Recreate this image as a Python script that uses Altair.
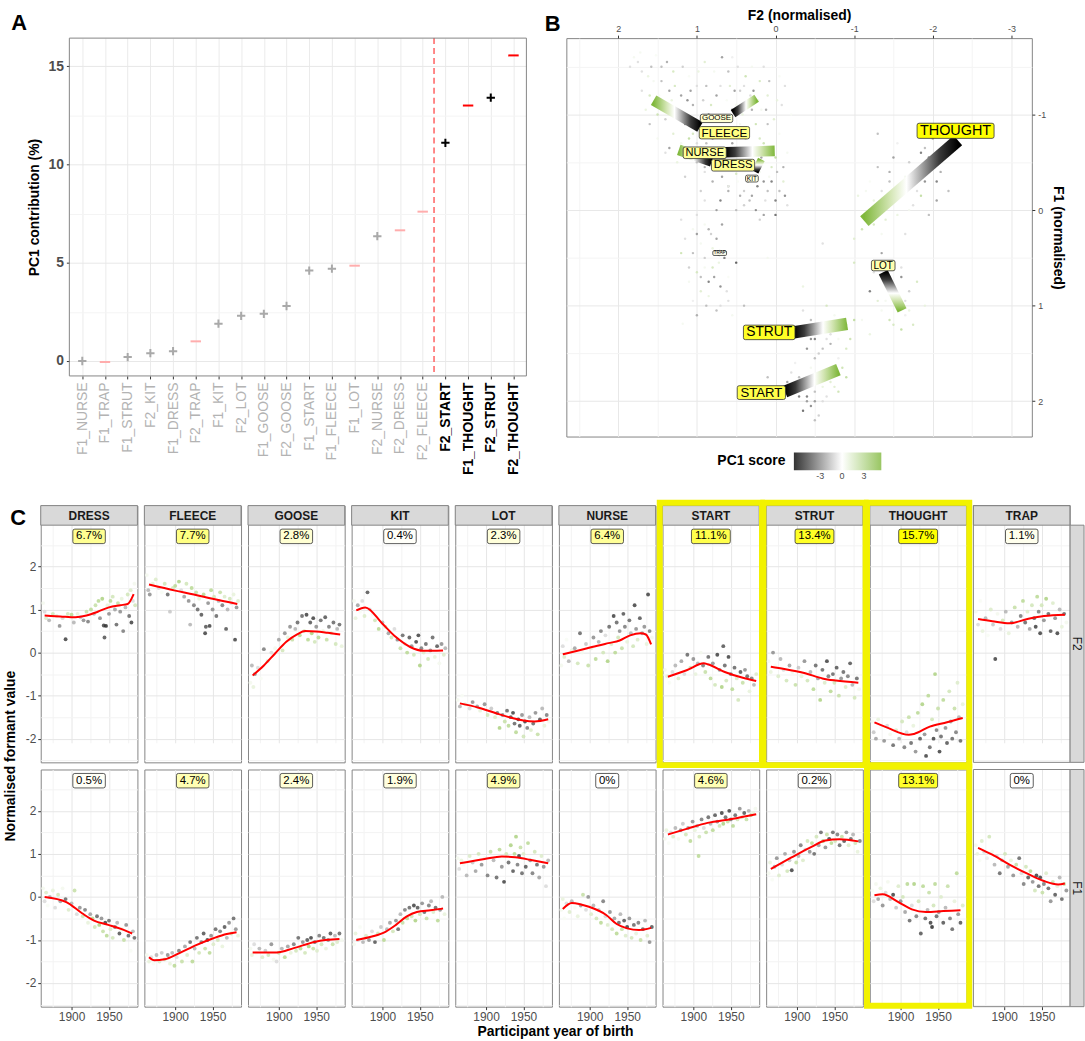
import json
import math
import altair as alt
import pandas as pd

FONT = "Liberation Sans"
GREEN = "#80b83c"
YELLOW = "#f2f200"
BORDER = "#858585"

# ---------------- Panel A ----------------
A_VARS = ["F1_NURSE", "F1_TRAP", "F1_STRUT", "F2_KIT", "F1_DRESS", "F2_TRAP", "F1_KIT", "F2_LOT",
          "F1_GOOSE", "F2_GOOSE", "F1_START", "F1_FLEECE", "F1_LOT", "F2_NURSE", "F2_DRESS",
          "F2_FLEECE", "F2_START", "F1_THOUGHT", "F2_STRUT", "F2_THOUGHT"]
A_CONTRIB = [0.0, -0.05, 0.2, 0.4, 0.5, 1.0, 1.9, 2.3, 2.4, 2.8, 4.6, 4.7, 4.85, 6.35, 6.65,
             7.6, 11.1, 13.0, 13.4, 15.55]
A_SIGN = ["+", "-", "+", "+", "+", "-", "+", "+", "+", "+", "+", "+", "-", "+", "-", "-",
          "+", "-", "+", "-"]

# ---------------- Panel C (percentages) ----------------
C_VOWELS = ["DRESS", "FLEECE", "GOOSE", "KIT", "LOT", "NURSE", "START", "STRUT", "THOUGHT", "TRAP"]
PCT_F2 = [6.7, 7.7, 2.8, 0.4, 2.3, 6.4, 11.1, 13.4, 15.7, 1.1]
PCT_F1 = [0.5, 4.7, 2.4, 1.9, 4.9, 0.0, 4.6, 0.2, 13.1, 0.0]

# ---------------- Panel B ----------------
B_VOWELS = ["FLEECE", "GOOSE", "NURSE", "DRESS", "KIT", "TRAP", "THOUGHT", "LOT", "STRUT", "START"]
B_BLACK_F2 = [0.96, 0.54, 0.64, 0.81, 0.26, 0.73, -2.32, -1.37, -0.23, -0.12]
B_BLACK_F1 = [-0.87, -1.01, -0.605, -0.51, -0.40, 0.44, -0.73, 0.65, 1.28, 1.90]
B_GREEN_F2 = [1.55, 0.24, 0.01, 1.23, 0.18, 0.69, -1.13, -1.61, -0.91, -0.80]
B_GREEN_F1 = [-1.15, -1.17, -0.62, -0.63, -0.53, 0.46, 0.115, 1.05, 1.19, 1.67]
B_LABEL_F2 = [0.65, 0.75, 0.90, 0.54, 0.30, 0.71, -2.29, -1.37, 0.08, 0.18]
B_LABEL_F1 = [-0.81, -0.96, -0.60, -0.47, -0.33, 0.45, -0.83, 0.58, 1.28, 1.91]

# token cloud (F2, F1, PC1 score)
B_POINTS = [
    (1.7, -1.45, -1), (1.55, -1.35, 0.5), (1.45, -1.5, -2), (1.6, -1.2, 2), (1.35, -1.25, -3),
    (1.25, -1.05, 1), (1.4, -0.95, -1.5), (1.15, -0.9, -4), (1.05, -1.1, -2.5), (1.3, -0.8, 1.5),
    (0.95, -0.85, -3), (1.2, -0.7, 0.5), (1.5, -1.0, 2.5), (1.0, -1.3, -1), (1.1, -0.75, 3),
    (0.6, -1.45, -2), (0.4, -1.3, -1), (0.2, -1.35, 2), (0.75, -1.2, -3), (0.5, -1.1, 0.5),
    (0.3, -1.05, -2.5), (0.1, -1.2, 1.5), (0.85, -1.0, -4), (0.65, -0.95, 3), (0.45, -1.25, -1.5),
    (-0.05, -1.4, 0.3), (0.55, -1.05, -3.5), (0.25, -0.9, 2.5), (0.15, -1.5, -1),
    (1.15, -0.62, 2), (1.0, -0.7, -1), (0.85, -0.55, -3), (0.7, -0.75, 0.5), (0.6, -0.5, -2),
    (0.45, -0.65, 1.5), (0.3, -0.58, -1.5), (0.15, -0.7, 2.5), (0.0, -0.55, 3), (0.9, -0.45, -2.5),
    (0.35, -0.8, -4), (0.55, -0.42, 1),
    (1.05, -0.55, 1.5), (0.9, -0.4, -1), (0.8, -0.3, -2.5), (0.7, -0.45, 0.5), (0.6, -0.25, -3),
    (0.5, -0.38, 2), (0.4, -0.2, -1.5), (0.65, -0.55, -4), (0.85, -0.62, 3), (0.45, -0.5, -2),
    (0.3, -0.35, 1),
    (0.5, -0.45, -1), (0.35, -0.3, -3), (0.2, -0.4, 0.5), (0.1, -0.2, -2), (0.0, -0.1, -4),
    (-0.1, -0.3, 1.5), (0.45, -0.15, -2.5), (0.25, 0.0, -3.5), (0.05, -0.45, 2), (-0.15, -0.05, -1),
    (0.15, 0.05, -3), (0.4, -0.05, -1.5), (0.6, -0.25, 0.3),
    (1.8, -1.6, 0.5), (1.7, -1.25, -1), (1.65, -1.05, 1), (1.45, -1.35, -2), (1.4, -0.6, -1),
    (1.3, -1.45, 2), (1.2, -1.2, -3), (1.1, -1.4, 0.3), (1.0, -0.5, -2), (0.9, -1.55, 1.5),
    (0.8, -0.75, -3.5), (0.7, -1.3, -1), (0.6, -0.2, -2.5), (0.5, -0.85, 1), (0.4, -0.6, -1),
    (0.3, -1.5, 0.5), (0.2, -0.75, 2), (0.1, -0.9, -2), (0.05, -0.3, -4), (-0.05, -0.8, 0.3),
    (-0.1, -0.45, -2.5), (0.75, 0.0, -3), (0.95, -0.2, -1.5), (1.05, 0.2, 0.5), (0.55, -1.6, -0.5),
    (1.75, -1.55, -1), (1.62, -1.4, 1), (1.52, -1.62, 0.3), (1.38, -1.55, -2.5), (1.28, -1.3, 2),
    (1.18, -1.5, -1.5), (1.08, -1.25, -3), (0.98, -1.45, 1), (0.88, -1.3, -2), (0.78, -1.45, 0.5),
    (0.68, -1.6, -3), (0.58, -1.3, 1.5), (0.48, -1.5, -1), (0.38, -1.4, 2.5), (0.28, -1.25, -3.5),
    (0.18, -1.05, 0.5), (0.08, -1.35, -2), (-0.02, -1.15, 1), (-0.12, -1.3, -1), (-0.2, -1.0, 0.3),
    (1.6, -0.9, -2), (1.5, -0.75, 0.5), (1.35, -0.65, -3), (1.25, -0.5, 1), (1.15, -0.35, -1.5),
    (1.05, -0.8, 2), (0.95, -0.65, -4), (0.85, -0.85, 0.3), (0.75, -0.6, -2.5), (0.65, -0.8, 1.5),
    (0.55, -0.7, -3), (0.45, -0.9, 0.5), (0.35, -0.45, -1), (0.25, -0.6, 2), (0.15, -0.3, -3.5),
    (0.05, -0.65, 1), (-0.05, -0.2, -2), (-0.15, -0.6, 0.5), (0.9, -0.1, -1), (0.7, -0.1, -4),
    (0.5, 0.0, -2), (0.3, -0.15, -3), (0.2, 0.1, -1.5), (0.0, 0.05, -4.5),
    (1.85, -1.5, -1), (1.72, -1.65, 0.5), (1.58, -1.5, -2), (1.48, -1.2, 0.3), (1.42, -1.1, -2.5),
    (1.32, -1.15, 1), (1.22, -0.95, -1), (1.12, -1.15, -3.5), (1.02, -0.95, 0.5), (0.92, -1.15, -1.5),
    (0.82, -1.1, 2), (0.72, -0.95, -2), (0.62, -1.15, 0.3), (0.52, -1.25, -3), (0.42, -1.0, 1),
    (0.32, -1.2, -1), (0.22, -1.15, 0.5), (0.12, -1.05, -2.5), (0.02, -0.95, 1.5), (-0.08, -1.1, -1),
    (0.98, -0.6, 0.5), (0.88, -0.7, -2), (0.78, -0.5, 1), (0.68, -0.35, -3), (0.58, -0.6, -1),
    (0.48, -0.3, 0.3), (0.38, -0.75, -2), (0.28, -0.45, 1.5), (0.18, -0.55, -3), (0.08, -0.35, 0.5),
    (-0.02, -0.4, -2), (-0.12, -0.15, -3.5), (0.33, -0.1, -2), (0.13, -0.1, -1), (0.23, -0.25, -4),
    (1.0, 0.05, -1), (0.85, 0.2, -2.5), (0.95, 0.35, 0.5), (0.75, 0.3, -3), (0.9, 0.5, -1.5),
    (0.8, 0.6, 2), (0.95, 0.7, -2), (0.7, 0.8, -3.5), (0.85, 0.9, 1), (1.1, 0.75, 0.5),
    (0.6, 0.95, -1), (0.75, 1.05, -2), (1.2, 0.45, 2.5), (0.65, 0.5, -4), (1.05, 0.95, -0.5),
    (1.18, 1.19, 0.5), (0.5, 0.55, -5), (0.1, 0.5, 0.5), (-0.35, 0.8, 1), (-0.6, 0.35, -1),
    (-1.0, 0.55, 2), (0.4, 1.0, -2),
    (1.2, 0.1, -1), (1.0, 0.25, -3), (0.9, 0.15, 0.5), (0.7, 0.45, -2), (0.6, 0.7, 0.3),
    (0.85, 0.75, -4), (0.95, 0.85, 1.5), (0.7, 1.0, -1), (0.55, 1.1, 0.5), (1.0, 1.1, -2.5),
    (0.8, 0.4, 1), (1.1, 0.6, -1.5), (1.15, 0.3, -1), (1.05, 0.45, -2), (0.9, 0.6, 0.5),
    (0.78, 0.7, -3), (0.72, 0.55, 1), (0.88, 1.0, -2), (0.62, 0.85, -1), (1.0, 0.65, 2),
    (0.82, 0.25, -1.5), (0.68, 0.15, -3),
    (-2.0, -0.75, -3), (-1.85, -0.6, -4), (-2.1, -0.4, -2.5), (-1.7, -0.5, -1.5), (-1.9, -0.3, -3.5),
    (-1.6, -0.2, 0.5), (-1.75, -0.05, -1), (-1.5, -0.1, 2), (-1.4, 0.1, 1.5), (-1.2, -0.3, 0.3),
    (-1.3, -0.45, -2), (-1.1, 0.2, 2.5), (-1.95, 0.05, -2), (-2.15, -0.6, -4.5), (-1.55, -0.7, -0.5),
    (-1.05, -0.15, 1), (-1.65, 0.25, -1), (-1.85, -0.15, 3), (-2.2, -0.2, -2), (-1.0, 0.3, 1.5),
    (-1.3, -0.8, -2), (-1.5, -0.55, -3), (-1.8, -0.4, -1), (-1.95, -0.55, -4), (-1.65, -0.35, 0.5),
    (-1.45, -0.3, -2), (-1.25, -0.1, 1), (-1.15, 0.05, 2), (-1.35, 0.25, 0.5), (-2.05, -0.1, -3),
    (-1.9, -0.65, -2), (-2.05, -0.3, -4), (-1.8, -0.2, -1), (-1.7, 0.0, 0.5), (-1.55, 0.05, 1),
    (-1.45, -0.4, -2.5), (-1.35, -0.2, -1), (-1.25, 0.15, 2), (-1.15, -0.2, 0.5), (-2.0, -0.5, -3),
    (-1.35, 0.45, -3), (-1.5, 0.55, -2), (-1.25, 0.65, -1), (-1.6, 0.7, -3.5), (-1.4, 0.8, 0.5),
    (-1.7, 0.85, -1.5), (-1.3, 0.95, 1.5), (-1.55, 1.0, -2.5), (-1.8, 0.75, 2), (-1.45, 1.15, 2.5),
    (-1.65, 1.1, -0.5), (-1.2, 0.85, -4), (-1.9, 1.0, 1), (-1.6, 1.25, 3), (-1.1, 1.15, 0.5),
    (-1.4, 0.6, -2), (-1.5, 0.85, -4), (-1.65, 0.95, -1), (-1.35, 1.05, 0.5), (-1.75, 1.2, 2),
    (-1.25, 0.55, -3), (-1.45, 0.7, -2), (-1.55, 0.9, -3), (-1.6, 0.6, -1), (-1.7, 1.05, 1),
    (-1.4, 0.95, 0.5), (-1.5, 1.2, 2),
    (-0.3, 1.25, -3), (-0.45, 1.15, -2), (-0.5, 1.35, -4), (-0.6, 1.2, -1), (-0.7, 1.4, -2.5),
    (-0.75, 1.1, 0.5), (-0.85, 1.25, 1.5), (-0.95, 1.35, 2.5), (-0.55, 1.5, -1.5), (-0.4, 1.45, -3.5),
    (-0.65, 1.0, 2), (-0.8, 1.55, -0.5), (-1.0, 1.15, 3), (-0.35, 1.05, -1), (-1.2, 1.3, 1),
    (-0.4, 1.3, -2.5), (-0.55, 1.25, -4), (-0.65, 1.35, -1), (-0.75, 1.2, 1), (-0.9, 1.45, 2),
    (-0.5, 1.55, -2), (-0.5, 1.2, -3), (-0.6, 1.45, -2), (-0.7, 1.3, -1), (-0.8, 1.35, 0.5),
    (-0.45, 1.35, -3.5), (-0.9, 1.2, 2),
    (0.1, 1.75, -2), (-0.1, 1.85, -3.5), (-0.2, 1.7, -1), (-0.3, 1.95, -4), (-0.4, 1.8, -2.5),
    (-0.5, 2.0, -3), (-0.45, 1.65, 0.5), (-0.6, 1.85, 1), (-0.7, 1.7, 2), (-0.8, 1.9, 2.5),
    (-0.55, 2.15, -1.5), (-0.35, 2.1, -4.5), (-0.9, 1.75, 3), (-0.25, 1.6, -0.5), (-0.5, 2.2, -2),
    (-0.15, 1.8, -3), (-0.3, 1.75, -2), (-0.4, 1.95, -4), (-0.6, 2.0, -1), (-0.7, 1.8, 1.5),
    (-0.45, 2.05, -3.5), (-0.85, 1.65, 2.5), (-0.25, 1.9, -3), (-0.35, 1.85, -4), (-0.5, 1.9, -2),
    (-0.55, 1.75, 0.5), (-0.65, 1.95, -1), (-0.75, 1.85, 1.5), (-0.4, 2.0, -3),
]

# ---------------- Panel C: speaker points (year, value, PC1 score) and smooths ----------------
DRESS_F2 = [(1862,1.15,0.5),(1864,0.95,-1),(1866,0.8,1.5),(1870,0.75,-2),(1875,0.9,2),(1880,0.85,1),(1884,0.62,-3),(1888,0.8,-1),(1892,0.31,-5),(1895,0.9,2),(1900,0.88,3),(1903,0.7,-2),(1908,0.9,1),(1912,0.82,-1.5),(1916,0.75,-3),(1920,0.95,2.5),(1922,0.72,-3.5),(1926,1.0,3),(1930,0.9,-2),(1932,1.1,2.5),(1936,1.2,3),(1938,0.8,-3),(1941,1.25,3.5),(1943,0.63,-5),(1944,0.35,-4.5),(1946,0.62,-5.5),(1948,1.1,1),(1950,0.9,-3),(1952,1.2,3),(1955,1.3,2),(1958,1.0,-2.5),(1960,0.65,-4),(1962,1.15,2.5),(1965,0.95,-3),(1967,1.25,1),(1969,0.5,-3.5),(1972,1.05,-2),(1975,1.35,2),(1977,0.85,-4),(1979,1.45,1.5),(1980,0.7,-5),(1982,1.2,-1),(1984,1.6,0.5),(1985,1.1,2)]
DRESS_F2_FIT = [(1864,0.86),(1885,0.84),(1905,0.82),(1920,0.86),(1935,0.95),(1950,1.05),(1965,1.10),(1975,1.13),(1983,1.36)]
FLEECE_F2 = [(1862,1.8,0.5),(1864,1.45,-2),(1866,1.35,-3),(1870,1.6,1),(1874,1.7,1.5),(1878,1.5,-1),(1882,1.4,0.3),(1886,1.6,2),(1890,1.35,-4),(1893,0.95,-1.5),(1897,1.5,2),(1900,1.55,3),(1905,1.65,3.5),(1908,1.45,-1),(1912,1.3,-2.5),(1915,1.6,2),(1918,1.2,-3),(1920,0.65,-2),(1922,1.5,3),(1925,1.1,-3.5),(1928,1.4,2.5),(1930,1.0,-4),(1932,1.25,1),(1935,0.88,-4.5),(1938,1.35,3),(1940,0.45,-5),(1941,0.6,-4.5),(1944,1.15,-3),(1946,0.62,-5),(1948,1.45,3),(1950,1.0,-3),(1952,1.3,2),(1955,0.85,-4),(1958,1.2,-2),(1960,1.4,2.5),(1963,1.1,-3.5),(1966,1.3,1.5),(1968,0.55,-4.5),(1970,1.0,-2),(1973,1.25,2),(1975,1.15,-1),(1978,1.35,1),(1980,0.3,-5),(1982,1.05,-3),(1984,1.2,1.5)]
FLEECE_F2_FIT = [(1865,1.58),(1900,1.44),(1925,1.35),(1950,1.25),(1983,1.13)]
GOOSE_F2 = [(1862,-0.7,0.5),(1864,-0.3,-2),(1866,-0.8,1),(1868,-0.5,-3),(1872,-0.35,-1),(1876,-0.6,0.3),(1880,0.08,-3.5),(1885,-0.2,1.5),(1890,0.0,-1),(1895,0.1,0.5),(1900,0.3,-2.5),(1905,0.05,2),(1908,0.45,-3),(1912,0.35,1),(1915,0.6,-3),(1918,0.3,2.5),(1922,0.55,-2),(1925,0.7,-4),(1928,0.4,3),(1931,0.85,-4),(1934,0.5,2),(1937,0.88,-5),(1939,0.3,3),(1942,0.7,-4.5),(1944,0.45,3.5),(1946,0.8,-5),(1948,0.25,2),(1950,0.6,-3),(1953,0.35,3),(1956,0.75,-4),(1959,0.5,1),(1962,0.82,-4.5),(1964,0.3,2.5),(1967,0.6,-3.5),(1970,0.45,1.5),(1973,0.7,-4),(1976,0.2,2),(1978,0.55,-2),(1981,0.65,-4),(1984,0.15,1)]
GOOSE_F2_FIT = [(1865,-0.53),(1880,-0.3),(1895,-0.02),(1910,0.25),(1925,0.43),(1935,0.5),(1950,0.49),(1965,0.46),(1982,0.42)]
KIT_F2 = [(1862,1.2,0.5),(1864,0.8,1),(1867,1.1,-2.5),(1870,0.95,0.3),(1873,1.2,-1),(1876,0.85,1.5),(1880,1.4,-4.5),(1883,1.0,-1),(1887,0.9,0.5),(1890,0.75,2),(1895,0.55,3),(1900,0.7,-2),(1904,0.6,1.5),(1908,0.45,-2.5),(1912,0.35,2),(1916,0.55,-1),(1920,0.3,-3),(1924,0.1,2.5),(1927,0.4,-4),(1930,0.2,1),(1933,0.0,3),(1936,0.35,-4.5),(1939,0.15,-3),(1942,-0.05,2),(1945,0.25,-5),(1948,0.4,-5),(1950,-0.3,3.5),(1952,0.1,-3.5),(1955,0.0,1.5),(1958,0.2,-4),(1961,-0.15,2),(1964,0.05,-3),(1967,0.35,-4),(1970,-0.1,1),(1973,0.15,-4.5),(1976,-0.25,0.5),(1979,0.2,-3),(1982,-0.05,1.5),(1984,0.1,-2)]
KIT_F2_FIT = [(1865,0.98),(1877,1.05),(1900,0.67),(1918,0.36),(1937,0.13),(1955,0.04),(1981,0.05)]
LOT_F2 = [(1862,-1.1,0.5),(1865,-1.25,-2),(1868,-1.0,0.3),(1872,-1.2,1),(1878,-1.3,-1),(1882,-1.15,-3),(1888,-1.25,-2.5),(1892,-1.35,1),(1898,-1.2,-3),(1902,-1.45,2),(1907,-1.3,-1.5),(1912,-1.5,1.5),(1915,-1.4,-3.5),(1918,-1.75,3.5),(1922,-1.45,-3),(1925,-1.6,2.5),(1928,-1.35,-4),(1930,-1.7,3),(1933,-1.5,-4.5),(1936,-1.4,-5),(1938,-1.65,-4),(1940,-1.85,3),(1943,-1.55,-5),(1945,-1.7,-4.5),(1948,-1.45,-3),(1950,-1.95,2),(1952,-1.6,-5),(1955,-1.75,-3.5),(1958,-1.5,-2),(1960,-1.8,1.5),(1963,-1.65,-4),(1966,-1.4,-3),(1969,-1.9,2.5),(1972,-1.55,-4.5),(1975,-1.3,-2),(1978,-1.7,1),(1981,-1.45,-3.5),(1984,-1.6,0.5)]
LOT_F2_FIT = [(1865,-1.18),(1890,-1.28),(1915,-1.42),(1935,-1.52),(1950,-1.58),(1965,-1.6),(1983,-1.55)]
NURSE_F2 = [(1862,-0.3,0.5),(1864,0.15,-1),(1866,-0.1,1.5),(1869,0.3,0.3),(1872,-0.2,-2),(1876,0.05,1),(1880,0.1,-2.5),(1884,-0.25,2),(1887,0.45,-4),(1890,0.0,0.5),(1895,0.2,-1.5),(1898,-0.3,2.5),(1902,0.1,1),(1905,0.35,-3),(1908,-0.15,3),(1912,0.25,-2),(1915,0.5,-3.5),(1918,0.0,2),(1921,0.4,-1),(1924,-0.2,3.5),(1926,0.6,-4),(1929,0.2,1.5),(1932,0.85,-5),(1934,0.0,3),(1936,0.7,-4),(1938,0.35,2),(1940,0.5,-3),(1943,0.1,2.5),(1945,0.9,-4.5),(1947,0.6,-3.5),(1950,0.25,1),(1953,0.75,-4),(1955,0.45,-2),(1958,0.15,2),(1960,1.1,-5),(1962,0.55,-3),(1964,0.3,1.5),(1967,0.8,-4.5),(1970,0.45,-2.5),(1973,0.6,-3),(1976,0.2,1),(1978,1.35,-5),(1980,0.5,-3.5),(1983,0.35,0.5)]
NURSE_F2_FIT = [(1864,-0.04),(1885,0.05),(1903,0.13),(1925,0.22),(1940,0.28),(1954,0.4),(1968,0.45),(1975,0.42),(1982,0.19)]
START_F2 = [(1862,-0.4,0.5),(1865,-0.55,1),(1868,-0.7,0.3),(1872,-0.45,-1),(1876,-0.3,-2),(1880,-0.6,1.5),(1884,-0.2,-2.5),(1888,-0.5,-1),(1892,-0.05,-4),(1896,-0.35,2),(1900,-0.15,-3),(1903,-0.5,1),(1906,-0.25,-2),(1910,0.0,0.5),(1913,-0.3,-3.5),(1916,-0.45,2.5),(1920,-0.1,-4),(1923,-0.6,3),(1926,-0.25,-3),(1929,-0.75,2),(1932,-0.05,-5),(1935,-0.4,-3),(1938,-0.8,3.5),(1940,0.15,-4.5),(1942,-0.3,-4),(1944,-0.65,2),(1947,-0.1,-5),(1950,-0.5,-3.5),(1952,-0.85,3),(1955,-0.35,-4),(1958,-0.6,1.5),(1960,-1.1,2),(1963,-0.45,-4.5),(1966,-0.7,2.5),(1969,-0.4,-3),(1972,-0.55,-4),(1975,-0.9,1),(1978,-0.6,-3.5),(1981,-0.75,-2),(1984,-0.5,1.5)]
START_F2_FIT = [(1866,-0.56),(1891,-0.41),(1914,-0.25),(1919,-0.27),(1942,-0.45),(1965,-0.58),(1984,-0.66)]
STRUT_F2 = [(1862,-0.2,0.5),(1865,-0.45,1),(1868,0.0,-3),(1871,-0.3,0.3),(1875,-0.55,1.5),(1878,-0.15,-2),(1882,-0.4,-1),(1886,-0.65,2),(1890,-0.3,-2.5),(1894,-0.45,0.5),(1898,-0.75,2.5),(1902,-0.35,-1.5),(1906,-0.55,1),(1910,-0.2,-3),(1914,-0.65,2),(1918,-0.45,-2),(1922,-0.85,3),(1925,-0.3,-4),(1928,-0.6,-2.5),(1931,-1.1,3.5),(1934,-0.4,-4),(1937,-0.7,1.5),(1940,-0.2,-5),(1942,-0.55,-3.5),(1945,-0.9,3),(1948,-0.5,-4),(1950,-0.7,2),(1953,-0.35,-4.5),(1956,-1.0,2.5),(1959,-0.6,-3),(1962,-0.45,-4),(1965,-0.8,1.5),(1968,-0.55,-3.5),(1971,-0.25,-4.5),(1974,-0.75,-2),(1977,-1.05,2),(1980,-0.6,-4),(1983,-0.85,0.5)]
STRUT_F2_FIT = [(1865,-0.33),(1883,-0.38),(1911,-0.48),(1934,-0.6),(1952,-0.65),(1982,-0.7)]
THOUGHT_F2 = [(1862,-1.6,0.5),(1864,-1.85,-1.5),(1867,-2.0,-2.5),(1870,-1.55,1),(1874,-1.75,0.3),(1878,-2.05,-3),(1882,-1.7,-1),(1886,-1.9,0.5),(1890,-2.15,-4),(1894,-1.8,1.5),(1898,-2.0,-2),(1902,-1.6,2),(1905,-2.2,-3.5),(1908,-1.85,-1),(1911,-1.5,2.5),(1914,-2.1,-4),(1917,-1.7,1),(1920,-2.3,-3),(1923,-1.4,3),(1926,-2.0,-4.5),(1929,-1.2,3.5),(1932,-1.9,-3),(1934,-2.4,-5),(1937,-1.0,3),(1939,-2.2,-4),(1942,-1.55,2),(1944,-2.0,-5),(1946,-0.5,3.5),(1948,-1.8,-3.5),(1950,-1.3,2.5),(1952,-2.3,-5),(1954,-1.95,-4),(1957,-1.1,3),(1960,-1.75,-3),(1962,-2.1,-4.5),(1965,-0.9,2),(1967,-1.6,-2.5),(1969,-2.0,-4),(1972,-1.3,2.5),(1974,-1.85,-3.5),(1976,-0.7,1.5),(1978,-1.5,-2),(1980,-2.05,-4),(1983,-1.2,1)]
THOUGHT_F2_FIT = [(1865,-1.62),(1883,-1.75),(1911,-1.91),(1918,-1.89),(1939,-1.72),(1962,-1.62),(1983,-1.52)]
TRAP_F2 = [(1862,0.95,0.5),(1865,0.65,-1),(1868,1.2,0.3),(1871,0.5,1),(1875,0.8,-2),(1878,0.4,0.3),(1882,1.0,1.5),(1885,0.65,-1.5),(1888,-0.15,-5),(1891,0.9,0.5),(1895,0.55,-1),(1898,0.75,2),(1902,0.95,-2),(1906,0.45,1),(1910,0.7,-3),(1914,1.05,2.5),(1918,0.6,-2),(1922,0.85,-3.5),(1925,1.2,3),(1928,0.7,-4),(1931,0.95,1.5),(1934,0.55,-2.5),(1937,1.1,2),(1940,0.8,-4),(1942,0.6,-5),(1944,1.3,3),(1946,0.95,-3.5),(1948,0.45,-5),(1950,1.1,2),(1953,0.75,-3),(1956,1.25,3.5),(1959,0.9,-4),(1962,0.5,-4.5),(1965,1.15,1.5),(1968,0.8,-3),(1971,0.45,-5),(1974,1.0,-2),(1977,0.6,1),(1980,0.9,-4),(1983,0.7,0.5)]
TRAP_F2_FIT = [(1865,0.78),(1884,0.73),(1907,0.68),(1931,0.78),(1953,0.85),(1981,0.88)]

DRESS_F1 = [(1862,0.2,0.5),(1864,-0.1,-1),(1866,0.1,1.5),(1868,-0.2,0.3),(1871,0.0,-2),(1875,0.15,1),(1878,-0.25,-1),(1882,0.05,2),(1885,-0.1,-2.5),(1888,0.2,0.5),(1892,-0.05,-4),(1896,-0.3,1.5),(1900,-0.15,-2),(1904,0.15,2.5),(1907,-0.4,-1),(1911,-0.25,-3),(1915,-0.45,2),(1918,-0.3,-3.5),(1922,-0.6,1),(1925,-0.4,-2.5),(1928,-0.5,3),(1931,-0.7,2),(1934,-0.45,-4),(1937,-0.65,3.5),(1940,-0.5,-3),(1942,-0.8,2.5),(1945,-0.6,-5),(1947,-0.9,3),(1950,-0.55,-4),(1952,-0.75,1.5),(1955,-0.95,2),(1958,-0.7,-3.5),(1961,-0.6,-2),(1964,-0.85,-4.5),(1967,-0.75,1),(1970,-1.0,2.5),(1973,-0.65,-3),(1976,-0.9,-4),(1979,-1.25,0.3),(1982,-0.8,-2),(1984,-0.95,-4)]
DRESS_F1_FIT = [(1864,0.0),(1893,-0.12),(1914,-0.38),(1930,-0.55),(1949,-0.65),(1967,-0.75),(1981,-0.85)]
FLEECE_F1 = [(1862,-1.35,0.5),(1865,-1.5,1),(1868,-1.4,-1),(1871,-1.55,0.3),(1875,-1.35,-2),(1879,-1.5,1.5),(1882,-1.3,-1.5),(1886,-1.45,2),(1890,-1.35,-3),(1893,-1.55,1),(1896,-1.3,-2),(1899,-1.6,3),(1902,-1.4,-1),(1905,-1.25,-3.5),(1909,-1.5,2.5),(1913,-1.15,-2.5),(1916,-1.35,1.5),(1920,-1.05,-4),(1923,-1.5,3),(1926,-1.2,-2),(1929,-0.95,-4),(1932,-1.3,2),(1935,-1.05,-3.5),(1938,-0.85,-4.5),(1940,-1.2,2.5),(1943,-1.0,-5),(1946,-1.3,3),(1948,-0.9,-3),(1951,-1.1,1.5),(1954,-0.75,-4),(1957,-1.0,2),(1960,-0.8,-3.5),(1963,-1.15,1),(1966,-0.7,-4.5),(1969,-0.95,-2),(1972,-0.6,-3),(1975,-0.85,2),(1978,-0.5,-4),(1981,-0.75,-3),(1984,-0.9,1)]
FLEECE_F1_FIT = [(1865,-1.4),(1872,-1.47),(1886,-1.45),(1905,-1.31),(1928,-1.12),(1951,-0.96),(1969,-0.86),(1982,-0.82)]
GOOSE_F1 = [(1862,-1.2,0.5),(1864,-1.35,1),(1867,-1.1,-1),(1870,-1.3,0.3),(1874,-1.2,-2),(1878,-1.4,1.5),(1882,-1.25,-1.5),(1886,-1.35,2),(1890,-1.1,-3),(1893,-1.45,0.5),(1897,-1.5,-1),(1900,-1.3,2.5),(1904,-1.2,-2),(1908,-1.4,3),(1912,-1.15,-2.5),(1916,-1.3,1),(1920,-1.1,-3.5),(1923,-1.25,2),(1926,-0.95,-4),(1929,-1.2,3),(1932,-1.05,-3),(1935,-1.3,2),(1938,-1.0,-4.5),(1940,-1.15,3.5),(1943,-0.95,-5),(1946,-1.2,2.5),(1948,-1.05,-4),(1951,-1.25,1.5),(1954,-0.9,-3.5),(1957,-1.1,2),(1960,-0.95,-4),(1963,-1.2,1),(1966,-1.0,-3),(1969,-0.85,-4.5),(1972,-1.1,2.5),(1975,-0.9,-2),(1978,-1.05,1.5),(1981,-0.85,-4),(1984,-1.0,0.5)]
GOOSE_F1_FIT = [(1865,-1.29),(1897,-1.29),(1920,-1.19),(1949,-1.04),(1981,-0.98)]
KIT_F1 = [(1862,-1.1,0.5),(1864,-0.85,1),(1867,-1.0,-1),(1870,-0.7,0.3),(1874,-1.05,-2),(1878,-0.9,1.5),(1882,-1.0,-3),(1886,-0.8,-1),(1890,-1.05,-4.5),(1894,-0.85,2),(1898,-0.7,-1.5),(1902,-1.0,3),(1906,-0.75,-2),(1910,-0.6,-2.5),(1914,-0.8,2),(1918,-0.55,-3),(1921,-0.75,-4),(1924,-0.4,-2),(1927,-0.6,2.5),(1930,-0.3,-3.5),(1933,-0.5,3),(1936,-0.25,-4),(1939,-0.45,2),(1942,-0.2,-5),(1944,-0.55,3.5),(1947,-0.25,-4.5),(1950,-0.4,2),(1953,-0.15,-3),(1956,-0.35,-4),(1959,-0.5,2.5),(1962,-0.2,-3.5),(1965,-0.1,-2),(1968,-0.35,1.5),(1971,-0.25,-4),(1974,-0.55,3),(1977,-0.3,-3),(1980,0.0,-2),(1983,-0.4,1)]
KIT_F1_FIT = [(1865,-1.0),(1886,-0.92),(1904,-0.81),(1918,-0.65),(1932,-0.46),(1946,-0.35),(1964,-0.31),(1981,-0.27)]
LOT_F1 = [(1862,0.9,0.5),(1864,0.65,-1),(1867,0.85,1),(1870,0.75,0.3),(1874,0.5,-2),(1878,0.95,1.5),(1882,0.8,-1.5),(1886,0.6,-2.5),(1890,1.0,2),(1894,0.75,-3),(1898,0.9,0.5),(1902,0.5,-3.5),(1906,1.05,2.5),(1910,0.85,-2),(1914,0.45,-4),(1918,1.1,3),(1921,0.7,-3),(1924,0.35,-5),(1927,1.0,2),(1930,0.8,-4),(1933,1.2,3.5),(1936,0.6,-4.5),(1938,1.0,3),(1940,1.4,3.5),(1942,0.75,-3.5),(1944,0.95,-5),(1946,1.15,2.5),(1948,0.55,-4),(1950,1.0,1.5),(1953,0.7,-4.5),(1956,1.25,3),(1959,0.85,-3),(1962,0.55,-3.5),(1965,1.05,2),(1968,0.75,-4),(1971,0.45,-2.5),(1974,0.95,1.5),(1977,0.7,-3),(1980,0.25,-1),(1983,0.85,-2)]
LOT_F1_FIT = [(1865,0.78),(1898,0.88),(1921,0.94),(1939,0.92),(1962,0.85),(1983,0.78)]
NURSE_F1 = [(1862,-0.3,0.5),(1864,-0.05,1),(1866,-0.5,0.3),(1869,-0.15,-1),(1873,-0.35,1.5),(1876,-0.1,-2),(1880,-0.25,0.3),(1884,-0.45,1),(1888,-0.2,-2.5),(1891,0.05,2.5),(1895,-0.3,-1),(1898,0.0,-3),(1902,-0.4,1.5),(1905,-0.2,-2),(1909,-0.5,2),(1912,-0.3,-1.5),(1915,-0.6,3),(1918,-0.1,-3.5),(1921,-0.45,-1),(1924,-0.65,1.5),(1927,-0.35,-3),(1930,-0.75,2),(1933,-0.5,-2.5),(1936,-0.85,3),(1939,-0.6,-4),(1941,-0.4,-2),(1943,-0.75,2.5),(1946,-0.55,-4.5),(1948,-0.9,1.5),(1950,-0.7,-5),(1953,-0.5,-3),(1956,-0.95,2),(1959,-0.65,-4),(1962,-0.85,1),(1965,-0.6,-3.5),(1968,-1.0,2.5),(1971,-0.75,-4),(1974,-0.55,-2),(1977,-0.9,1.5),(1980,-1.05,-3),(1983,-0.7,-4.5)]
NURSE_F1_FIT = [(1864,-0.28),(1876,-0.14),(1899,-0.23),(1922,-0.42),(1936,-0.63),(1950,-0.73),(1966,-0.77),(1982,-0.72)]
START_F1 = [(1862,1.35,0.5),(1864,1.55,1),(1867,1.25,0.3),(1870,1.5,-1),(1873,1.4,1.5),(1876,1.6,-2),(1880,1.35,0.5),(1883,1.55,-3),(1886,1.7,-1.5),(1890,1.45,2),(1893,1.6,-2.5),(1896,1.3,3),(1899,1.75,-3),(1902,1.55,1),(1905,1.65,-2),(1907,0.95,3),(1908,1.4,2),(1911,1.8,-3.5),(1914,1.6,-1),(1917,1.5,2.5),(1920,1.85,-4),(1923,1.7,-2),(1926,1.55,3),(1929,1.9,-4.5),(1932,1.75,-3),(1935,1.65,2),(1938,1.95,-5),(1940,1.7,3.5),(1943,1.85,-4),(1946,1.75,2.5),(1948,2.0,-5),(1950,1.8,-3.5),(1953,1.65,3),(1956,1.9,-4),(1959,1.8,2),(1962,2.05,-3),(1965,1.85,1.5),(1968,1.95,-4.5),(1971,1.8,2.5),(1974,2.0,-2),(1977,1.9,3),(1980,1.95,1),(1983,2.05,0.5)]
START_F1_FIT = [(1866,1.45),(1891,1.58),(1919,1.72),(1951,1.81),(1984,1.92)]
STRUT_F1 = [(1862,0.55,0.5),(1864,0.8,1),(1867,0.4,0.3),(1870,0.7,-2),(1873,0.9,-3),(1876,0.5,1.5),(1880,0.75,-1),(1884,1.0,-2.5),(1887,0.6,2),(1890,0.85,-1.5),(1893,0.62,-5),(1896,1.05,-3),(1899,0.8,2.5),(1902,0.95,-2),(1905,1.2,-3.5),(1908,0.85,1.5),(1911,1.1,-1),(1914,1.3,2),(1917,1.05,-3),(1920,1.25,3),(1923,1.0,-4),(1926,1.4,2),(1929,1.2,-2.5),(1932,1.5,-4),(1935,1.3,3.5),(1938,1.15,-3),(1940,1.45,2.5),(1943,1.35,-5),(1946,1.25,3),(1948,1.5,-4),(1951,1.3,2),(1954,1.45,-3.5),(1957,1.2,-4),(1960,1.4,2.5),(1963,1.3,-4.5),(1966,1.5,-3),(1969,1.2,1.5),(1972,1.35,-4),(1975,1.45,-2),(1978,1.25,2),(1981,1.05,1),(1984,1.3,-3.5)]
STRUT_F1_FIT = [(1865,0.65),(1892,0.91),(1920,1.17),(1938,1.31),(1957,1.34),(1982,1.29)]
THOUGHT_F1 = [(1862,0.15,0.3),(1864,-0.1,-1),(1867,0.3,0.5),(1870,-0.05,-2.5),(1873,0.2,1),(1876,-0.2,-3),(1880,0.1,-1),(1883,0.35,0.5),(1886,-0.05,-2),(1890,0.05,-5),(1894,-0.25,-1.5),(1897,0.25,1.5),(1900,-0.1,-3),(1903,0.0,2),(1906,-0.35,-2.5),(1909,0.3,3),(1912,-0.55,-4),(1915,-0.2,-1),(1918,0.3,3.5),(1921,-0.45,-3.5),(1924,-0.1,2),(1927,-0.85,-4.5),(1930,0.25,3),(1933,-0.5,-4),(1936,-0.3,-2),(1938,0.1,2.5),(1940,-0.6,-5),(1942,-0.7,-5.5),(1944,-0.2,2),(1946,0.3,3),(1948,-0.45,-4),(1951,-0.35,-3),(1954,0.0,1.5),(1957,-0.6,-4.5),(1960,-0.25,-2),(1963,0.25,2.5),(1966,-0.5,-3.5),(1969,-0.75,-4),(1972,-0.1,1),(1975,0.55,3),(1977,-0.4,-3),(1980,-0.6,-4.5),(1983,-0.2,1.5)]
THOUGHT_F1_FIT = [(1865,0.04),(1876,0.06),(1897,-0.12),(1915,-0.29),(1934,-0.35),(1957,-0.33),(1980,-0.31)]
TRAP_F1 = [(1862,1.2,0.5),(1864,1.0,1),(1867,0.85,0.3),(1870,1.3,1.5),(1873,1.05,-1),(1877,0.9,-0.5),(1880,1.4,2),(1884,1.05,0.5),(1887,0.75,-2),(1890,0.95,-1),(1894,0.55,-4),(1897,0.85,-1.5),(1901,1.0,2),(1905,0.7,-2.5),(1909,0.85,1),(1912,0.5,-3),(1916,0.75,2.5),(1920,0.9,-4),(1923,0.55,-1),(1926,0.3,-3.5),(1929,0.7,2),(1932,0.45,-4.5),(1935,0.6,3),(1938,0.35,-3),(1941,0.15,2),(1943,0.5,-5),(1946,0.25,-4),(1948,0.45,-5),(1951,0.1,2.5),(1953,0.3,-3.5),(1956,0.55,1.5),(1959,0.2,-4),(1962,-0.1,-3),(1965,0.35,2),(1968,0.05,-4.5),(1971,0.25,1),(1974,0.45,-2),(1977,-0.05,-4),(1980,0.3,2.5),(1983,0.15,-3)]
TRAP_F1_FIT = [(1865,1.14),(1884,0.98),(1907,0.75),(1931,0.54),(1953,0.37),(1972,0.29),(1981,0.31)]

C_POINTS = {
    ("DRESS", "F2"): DRESS_F2, ("FLEECE", "F2"): FLEECE_F2, ("GOOSE", "F2"): GOOSE_F2,
    ("KIT", "F2"): KIT_F2, ("LOT", "F2"): LOT_F2, ("NURSE", "F2"): NURSE_F2,
    ("START", "F2"): START_F2, ("STRUT", "F2"): STRUT_F2, ("THOUGHT", "F2"): THOUGHT_F2,
    ("TRAP", "F2"): TRAP_F2,
    ("DRESS", "F1"): DRESS_F1, ("FLEECE", "F1"): FLEECE_F1, ("GOOSE", "F1"): GOOSE_F1,
    ("KIT", "F1"): KIT_F1, ("LOT", "F1"): LOT_F1, ("NURSE", "F1"): NURSE_F1,
    ("START", "F1"): START_F1, ("STRUT", "F1"): STRUT_F1, ("THOUGHT", "F1"): THOUGHT_F1,
    ("TRAP", "F1"): TRAP_F1,
}
C_FITS = {
    ("DRESS", "F2"): DRESS_F2_FIT, ("FLEECE", "F2"): FLEECE_F2_FIT, ("GOOSE", "F2"): GOOSE_F2_FIT,
    ("KIT", "F2"): KIT_F2_FIT, ("LOT", "F2"): LOT_F2_FIT, ("NURSE", "F2"): NURSE_F2_FIT,
    ("START", "F2"): START_F2_FIT, ("STRUT", "F2"): STRUT_F2_FIT, ("THOUGHT", "F2"): THOUGHT_F2_FIT,
    ("TRAP", "F2"): TRAP_F2_FIT,
    ("DRESS", "F1"): DRESS_F1_FIT, ("FLEECE", "F1"): FLEECE_F1_FIT, ("GOOSE", "F1"): GOOSE_F1_FIT,
    ("KIT", "F1"): KIT_F1_FIT, ("LOT", "F1"): LOT_F1_FIT, ("NURSE", "F1"): NURSE_F1_FIT,
    ("START", "F1"): START_F1_FIT, ("STRUT", "F1"): STRUT_F1_FIT, ("THOUGHT", "F1"): THOUGHT_F1_FIT,
    ("TRAP", "F1"): TRAP_F1_FIT,
}

# ---------------- helpers ----------------
SCORE_SCALE = alt.Scale(domain=[-6.64, 0, 5.4], range=["#000000", "#ffffff", GREEN], interpolate="rgb")
FILL_SCALE = alt.Scale(domain=[0, 15.7], range=["#ffffff", "#ffff00"], interpolate="rgb")
NUM_TXT = "(datum.value < 0 ? '-' + abs(datum.value) : '' + datum.value)"
INT_LABEL = f"datum.value % 1 == 0 ? {NUM_TXT} : ''"

CW = {'A': .667, 'B': .667, 'C': .722, 'D': .722, 'E': .667, 'F': .611, 'G': .778, 'H': .722,
      'I': .278, 'K': .667, 'L': .556, 'N': .722, 'O': .778, 'P': .667, 'R': .722, 'S': .667,
      'T': .611, 'U': .722, '%': .889, '.': .278}


def text_w(s, fs):
    return sum(CW.get(c, .556) for c in s) * fs


def box_path(w, h, r):
    x0, x1, y0, y1 = -w / 2, w / 2, -h / 2, h / 2
    p = [f"M{x0 + r:.2f},{y0:.2f}", f"L{x1 - r:.2f},{y0:.2f}", f"Q{x1:.2f},{y0:.2f},{x1:.2f},{y0 + r:.2f}",
         f"L{x1:.2f},{y1 - r:.2f}", f"Q{x1:.2f},{y1:.2f},{x1 - r:.2f},{y1:.2f}",
         f"L{x0 + r:.2f},{y1:.2f}", f"Q{x0:.2f},{y1:.2f},{x0:.2f},{y1 - r:.2f}",
         f"L{x0:.2f},{y0 + r:.2f}", f"Q{x0:.2f},{y0:.2f},{x0 + r:.2f},{y0:.2f}", "Z"]
    return "".join(p)


def cond(test, a, b):
    return {"condition": {"test": test, "value": a}, "value": b}


def letter(t, x, y):
    return alt.Chart(pd.DataFrame({"t": [t]})).mark_text(
        fontSize=22, fontWeight="bold", align="left", baseline="top", color="black"
    ).encode(x=alt.value(x), y=alt.value(y), text="t:N")


# ================= Panel A =================
AW, AH = 460.0, 340.0
SHIFT = 28.8      # plot area is drawn SHIFT px inside its view, so that panel C can sit further left
dfA = pd.DataFrame({"idx": list(range(len(A_VARS))), "var": A_VARS, "contrib": A_CONTRIB, "sign": A_SIGN})
dfA["key"] = dfA["sign"] + dfA["contrib"].map(lambda v: "hi" if v >= 10 else "lo")
n_lo = int((dfA["contrib"] < 10).sum())
lab_arr = json.dumps(A_VARS)

xA = alt.X("idx:Q", scale=alt.Scale(domain=[-0.57, len(A_VARS) - 1 + 0.57], range=[SHIFT, SHIFT + AW],
                                    nice=False, zero=False),
           axis=alt.Axis(values=list(range(len(A_VARS))), tickCount=len(A_VARS),
                         labelExpr=f"{lab_arr}[datum.value]",
                         labelAngle=-90, labelFontSize=14, labelOverlap=False, labelFlush=False,
                         labelColor=cond(f"datum.value >= {n_lo}", "#000000", "#b3b3b3"),
                         labelFontWeight=cond(f"datum.value >= {n_lo}", "bold", "normal"),
                         title=None, grid=True, gridColor="#ebebeb", tickColor="#333333",
                         tickSize=3, domain=False, labelPadding=3))
yA = alt.Y("contrib:Q", scale=alt.Scale(domain=[-0.76, 16.43], nice=False, zero=False),
           axis=alt.Axis(values=[0, 2.5, 5, 7.5, 10, 12.5, 15], tickCount=7, offset=-SHIFT,
                         labelExpr=f"datum.value % 5 == 0 ? {NUM_TXT} : ''",
                         gridColor=cond("datum.value % 5 == 0", "#e8e8e8", "#f4f4f4"),
                         tickColor=cond("datum.value % 5 == 0", "#333333", "transparent"),
                         tickSize=3, labelFontSize=14, labelFontWeight="bold", labelColor="#4d4d4d",
                         title="PC1 contribution (%)", titleFontSize=14, titleFontWeight="bold",
                         titleColor="black", domain=False, labelPadding=3, titlePadding=6,
                         labelOverlap=False))
colA = alt.Color("key:N", scale=alt.Scale(domain=["+lo", "+hi", "-lo", "-hi"],
                                          range=["#a9a9a9", "#000000", "#ffadad", "#ff0000"]), legend=None)
baseA = alt.Chart(dfA)
crosses = baseA.transform_filter("datum.sign == '+'").mark_point(
    shape="M-1,0L1,0M0,-1L0,1", size=70, filled=False, strokeWidth=2, opacity=1
).encode(x=xA, y=yA, color=colA)
dashes = baseA.transform_filter("datum.sign == '-'").mark_point(
    shape="M-1,0L1,0", size=110, filled=False, strokeWidth=2, opacity=1
).encode(x=xA, y=yA, color=colA)
one = pd.DataFrame({"t": [0]})
ruleA = alt.Chart(one).mark_rule(color="#ff6b6b", strokeDash=[6, 4], strokeWidth=1.6).encode(
    x=alt.datum(n_lo - 0.5))
borderA = alt.Chart(one).mark_rect(fillOpacity=0, stroke=BORDER, strokeWidth=1).encode(
    x=alt.value(SHIFT), x2=alt.value(SHIFT + AW), y=alt.value(0), y2=alt.value(AH))
chartA = alt.layer(
    ruleA, crosses, dashes, borderA, letter("A", SHIFT - 58.5, -24.7),
).properties(width=AW + SHIFT, height=AH, view=alt.ViewBackground(stroke="transparent"))

# ================= Panel B =================
BW, BH = 468.5, 401.0
BX_DOM = [-3.26, 2.66]
BY_DOM = [-1.80, 2.37]
KX = BW / (BX_DOM[1] - BX_DOM[0])
KY = BH / (BY_DOM[1] - BY_DOM[0])
xB_scale = alt.Scale(domain=BX_DOM, reverse=True, nice=False, zero=False)
yB_scale = alt.Scale(domain=BY_DOM, reverse=True, nice=False, zero=False)
xB_axis = alt.Axis(orient="top", values=[-3 + 0.5 * i for i in range(12)], tickCount=12,
                   labelExpr=INT_LABEL, labelOverlap=False,
                   gridColor=cond("datum.value % 1 == 0", "#e8e8e8", "#f4f4f4"),
                   tickColor=cond("datum.value % 1 == 0", "#333333", "transparent"), tickSize=3,
                   labelFontSize=9, labelColor="#4d4d4d", title="F2 (normalised)", titleFontSize=14,
                   titleFontWeight="bold", titleColor="black", domain=False, labelPadding=2,
                   titlePadding=2, labelFlush=False)
yB_axis = alt.Axis(orient="right", values=[-1.5 + 0.5 * i for i in range(8)], tickCount=8,
                   labelExpr=INT_LABEL, labelOverlap=False,
                   gridColor=cond("datum.value % 1 == 0", "#e8e8e8", "#f4f4f4"),
                   tickColor=cond("datum.value % 1 == 0", "#333333", "transparent"), tickSize=3,
                   labelFontSize=9, labelColor="#4d4d4d", title="F1 (normalised)", titleFontSize=14,
                   titleFontWeight="bold", titleColor="black", titleAngle=90, domain=False,
                   labelPadding=3, titlePadding=5, labelFlush=False)
xB = alt.X("F2:Q", scale=xB_scale, axis=xB_axis)
yB = alt.Y("F1:Q", scale=yB_scale, axis=yB_axis)

dfBp = pd.DataFrame(B_POINTS, columns=["F2", "F1", "score"])
ptsB = alt.Chart(dfBp).mark_circle(size=6, opacity=0.8).encode(
    x=xB, y=yB,
    color=alt.Color("score:Q", scale=SCORE_SCALE, legend=alt.Legend(
        orient="none", legendX=152, legendY=417, direction="horizontal", title="PC1 score",
        titleOrient="left", titleFontSize=14, titleFontWeight="bold", titleColor="black",
        gradientLength=88, gradientThickness=18, values=[-3, 0, 3], labelFontSize=9,
        labelColor="#4d4d4d", labelExpr=NUM_TXT, labelOverlap=False,
        gradientStrokeWidth=0, titlePadding=8)))

maxc = {v: max(PCT_F2[i], PCT_F1[i]) for i, v in enumerate(C_VOWELS)}
lo_l, hi_l = math.log(min(maxc.values())), math.log(max(maxc.values()))


def frac(v):
    return (math.log(v) - lo_l) / (hi_l - lo_l)


STOPS = [alt.GradientStop(color="#000000", offset=0), alt.GradientStop(color="#3a3a3a", offset=0.2),
         alt.GradientStop(color="#ffffff", offset=0.55), alt.GradientStop(color="#d4e6b5", offset=0.72),
         alt.GradientStop(color=GREEN, offset=1)]
bar_layers = []
for i, v in enumerate(B_VOWELS):
    d = pd.DataFrame({"F2": [B_BLACK_F2[i], B_GREEN_F2[i]], "F1": [B_BLACK_F1[i], B_GREEN_F1[i]]})
    dpx = (B_GREEN_F2[i] - B_BLACK_F2[i]) * KX
    dpy = (B_BLACK_F1[i] - B_GREEN_F1[i]) * KY
    if abs(dpx) >= abs(dpy):
        x1, x2 = (0, 1) if dpx < 0 else (1, 0)
        y1 = y2 = 0.5
    else:
        y1, y2 = (0, 1) if dpy < 0 else (1, 0)
        x1 = x2 = 0.5
    grad = alt.LinearGradient(gradient="linear", stops=STOPS, x1=x1, x2=x2, y1=y1, y2=y2)
    sw = 6 + 7 * frac(maxc[v])
    bar_layers.append(alt.Chart(d).mark_line(stroke=grad, strokeWidth=sw, strokeCap="butt").encode(x=xB, y=yB))

rowsL = []
for i, v in enumerate(B_VOWELS):
    fs = 4.5 + 10.0 * frac(maxc[v])
    w = text_w(v, fs) + 0.4 * fs
    h = 1.05 * fs
    rowsL.append({"F2": B_LABEL_F2[i], "F1": B_LABEL_F1[i], "txt": v, "fs": fs, "pct": maxc[v],
                  "shape": box_path(w, h, min(2.0, h / 4))})
dfBl = pd.DataFrame(rowsL)
boxB = alt.Chart(dfBl).mark_point(size=4, filled=True, stroke="#333333", strokeWidth=0.8, opacity=1).encode(
    x=xB, y=yB, shape=alt.Shape("shape:N", scale=None),
    fill=alt.Fill("pct:Q", scale=FILL_SCALE, legend=None))
txtB = alt.Chart(dfBl).mark_text(color="black", baseline="middle").encode(
    x=xB, y=yB, text="txt:N", size=alt.Size("fs:Q", scale=None))

chartB = alt.layer(ptsB, *bar_layers, boxB, txtB, letter("B", -21.8, -24)).properties(width=BW, height=BH)

# ================= Panel C =================
PW, PH, SH, SW = 97.3, 238.7, 19.7, 14.0
HS, VS = 6.3, 6.6
XDOM = [1858.8, 1988.0]
YDOM = [-2.55, 2.96]
LABEL_Y = 2.70


def c_panel(j, row):
    vowel = C_VOWELS[j]
    top = row == "F2"
    first = j == 0
    last = j == len(C_VOWELS) - 1
    pct = (PCT_F2 if top else PCT_F1)[j]
    hi = pct >= 10
    H = PH + (SH if top else 0.0)
    W = PW + (SW if last else 0.0)
    pts = pd.DataFrame(C_POINTS[(vowel, row)], columns=["year", "val", "score"])
    fit = pd.DataFrame(C_FITS[(vowel, row)], columns=["year", "val"])
    txt = f"{pct:g}%"
    fs = 11.5
    lab = pd.DataFrame({"year": [sum(XDOM) / 2], "val": [LABEL_Y], "pct": [pct], "txt": [txt],
                        "shape": [box_path(text_w(txt, fs) + 6.5, 14.6, 2.0)],
                        "vowel": [vowel], "row": [row]})
    xs = alt.Scale(domain=XDOM, range=[0, PW], nice=False, zero=False)
    ys = alt.Scale(domain=YDOM, range=[H, H - PH], nice=False, zero=False)
    xax = alt.Axis(values=[1875, 1900, 1925, 1950, 1975], tickCount=5,
                   labelExpr="datum.value % 50 == 0 ? '' + datum.value : ''",
                   labels=not top, ticks=not top,
                   tickColor=cond("datum.value % 50 == 0", "#333333", "transparent"), tickSize=3,
                   gridColor=cond("datum.value % 50 == 0", "#e6e6e6", "#f3f3f3"),
                   labelFontSize=12, labelColor="#4d4d4d", title=None, domain=False, labelPadding=2,
                   labelFlush=False, labelOverlap=False)
    yax = alt.Axis(values=[-2.5 + 0.5 * i for i in range(11)], tickCount=11,
                   labelExpr=INT_LABEL,
                   labels=first, ticks=first,
                   tickColor=cond("datum.value % 1 == 0", "#333333", "transparent"), tickSize=3,
                   gridColor=cond("datum.value % 1 == 0", "#e6e6e6", "#f3f3f3"),
                   labelFontSize=12, labelColor="#4d4d4d", title=None, domain=False, labelPadding=2,
                   labelFlush=False, labelOverlap=False)
    X = alt.X("year:Q", scale=xs, axis=xax)
    Y = alt.Y("val:Q", scale=ys, axis=yax)
    layers = [
        alt.Chart(pts).mark_circle(size=15, opacity=0.85).encode(
            x=X, y=Y, color=alt.Color("score:Q", scale=SCORE_SCALE, legend=None)),
        alt.Chart(fit).mark_line(color="#ff0000", strokeWidth=2, interpolate="monotone").encode(x=X, y=Y),
        alt.Chart(lab).mark_point(size=4, filled=True, stroke="#333333", strokeWidth=0.8, opacity=1).encode(
            x=X, y=Y, shape=alt.Shape("shape:N", scale=None),
            fill=alt.Fill("pct:Q", scale=FILL_SCALE, legend=None)),
        alt.Chart(lab).mark_text(fontSize=fs, color="black", baseline="middle").encode(x=X, y=Y, text="txt:N"),
    ]
    dl = alt.Chart(lab)
    if top:
        layers.append(dl.mark_rect(fill="#d9d9d9", stroke=BORDER, strokeWidth=1).encode(
            x=alt.value(0), x2=alt.value(PW), y=alt.value(0), y2=alt.value(SH)))
        layers.append(dl.mark_text(fontSize=12, fontWeight="bold", color="#1a1a1a").encode(
            x=alt.value(PW / 2), y=alt.value(SH / 2 + 0.5), text="vowel:N"))
    if last:
        layers.append(dl.mark_rect(fillOpacity=0, stroke=BORDER, strokeWidth=1).encode(
            x=alt.value(0), x2=alt.value(PW), y=alt.value(0), y2=alt.value(H)))
        layers.append(dl.mark_rect(fill="#d9d9d9", stroke=BORDER, strokeWidth=1).encode(
            x=alt.value(PW), x2=alt.value(PW + SW), y=alt.value(H - PH), y2=alt.value(H)))
        layers.append(dl.mark_text(fontSize=12, color="#1a1a1a", angle=90).encode(
            x=alt.value(PW + SW / 2), y=alt.value(H - PH / 2), text="row:N"))
    if hi:
        layers.append(dl.mark_rect(fillOpacity=0, stroke=YELLOW, strokeWidth=6).encode(
            x=alt.value(-2.8), x2=alt.value(PW + 2.8), y=alt.value(-2.8),
            y2=alt.value(H + 2.8 if top else PH - 1)))
    if first and top:
        layers.append(dl.mark_text(text="C", fontSize=22, fontWeight="bold", color="black").encode(
            x=alt.value(-22.7), y=alt.value(12.7)))
    if first and not top:
        layers.append(dl.mark_text(text="Normalised formant value", fontSize=14, fontWeight="bold",
                                   color="black", angle=270).encode(x=alt.value(-29.7), y=alt.value(-13.5)))
    if j == 5 and not top:
        layers.append(dl.mark_text(text="Participant year of birth", fontSize=14, fontWeight="bold",
                                   color="black").encode(x=alt.value(-3.4), y=alt.value(PH + 25.4)))
    view = alt.ViewBackground(stroke="transparent") if last else alt.ViewBackground(stroke=BORDER, strokeWidth=1)
    return alt.layer(*layers).properties(width=W, height=H, view=view)


RES = dict(color="independent", fill="independent", shape="independent", size="independent")
cells = [c_panel(j, "F2") for j in range(len(C_VOWELS))] + [c_panel(j, "F1") for j in range(len(C_VOWELS))]
chartC = alt.concat(*cells, columns=len(C_VOWELS), spacing={"row": VS, "column": HS},
                    bounds="flush", align="each").resolve_scale(**RES)

top_row = alt.hconcat(chartA, chartB, spacing=16).resolve_scale(**RES)
chart = alt.vconcat(top_row, chartC, spacing=16.5).resolve_scale(**RES).properties(
    padding={"left": 3, "top": 4, "right": 0, "bottom": 0}
).configure(font=FONT).configure_view(stroke=BORDER, strokeWidth=1)

chart.save("out.html", embed_options={"renderer": "svg", "actions": False})
